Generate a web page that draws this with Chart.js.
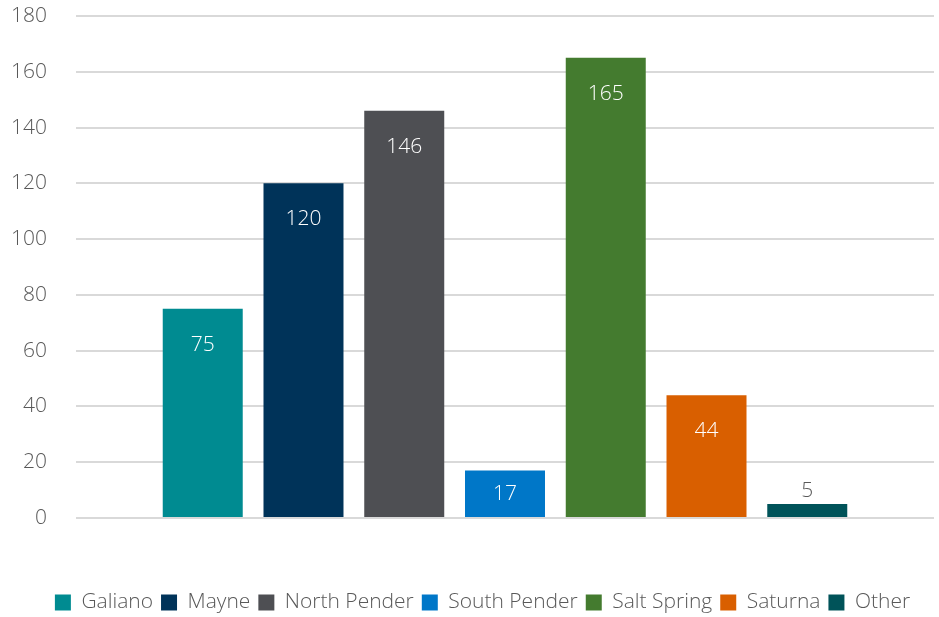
<!DOCTYPE html>
<html>
<head>
<meta charset="utf-8">
<script src="https://cdn.jsdelivr.net/npm/chart.js@4/dist/chart.umd.min.js"></script>
<style>
  html, body { margin: 0; padding: 0; background: #ffffff; }
  #wrap { width: 939px; height: 617px; position: relative; }
</style>
</head>
<body>
<div id="wrap"><canvas id="chart"></canvas></div>
<script>
// Islands and their counts
const islands = ['Galiano', 'Mayne', 'North Pender', 'South Pender', 'Salt Spring', 'Saturna', 'Other'];
const counts = [75, 120, 146, 17, 165, 44, 5];
const islandColors = ['#008B91', '#003359', '#4E4F53', '#0077C8', '#447B2F', '#D95F00', '#005359'];
const yTicks = [0, 20, 40, 60, 80, 100, 120, 140, 160, 180];

const FONT = '"Open Sans", "Lato", sans-serif';
const TEXT_GRAY = '#595959';

// Value labels: near the top inside tall bars, centred in short ones, above tiny ones
const valueLabels = {
  id: 'valueLabels',
  afterDatasetsDraw(chart) {
    const ctx = chart.ctx;
    ctx.save();
    ctx.font = '300 21px ' + FONT;
    ctx.textAlign = 'center';
    ctx.textBaseline = 'middle';
    chart.data.datasets.forEach((ds, i) => {
      const meta = chart.getDatasetMeta(i);
      meta.data.forEach((bar, j) => {
        const v = ds.data[j];
        const h = bar.base - bar.y;
        let y, color = '#ffffff';
        if (h > 80) {
          y = bar.y + 36;
        } else if (h > 30) {
          y = (bar.y + bar.base) / 2;
        } else {
          y = bar.y - 13;
          color = TEXT_GRAY;
        }
        ctx.fillStyle = color;
        ctx.fillText(String(v), bar.x, y);
      });
    });
    ctx.restore();
  }
};

// Centre the legend row under the whole chart width
const legendShift = {
  id: 'legendShift',
  afterLayout(chart) {
    const lg = chart.legend;
    if (!lg) return;
    const dx = 14;
    lg.left += dx;
    lg.right += dx;
  }
};

const datasets = islands.map((name, i) => ({
  label: name,
  data: [counts[i]],
  backgroundColor: islandColors[i],
  borderWidth: 0,
  categoryPercentage: 0.822,
  barPercentage: 0.794
}));

new Chart(document.getElementById('chart'), {
  type: 'bar',
  data: { labels: [''], datasets },
  plugins: [valueLabels, legendShift],
  options: {
    responsive: true,
    maintainAspectRatio: false,
    animation: false,
    layout: { padding: { top: 16, right: 5, left: 3, bottom: -6 } },
    scales: {
      x: {
        grid: { display: false },
        border: { display: false },
        ticks: { display: false },
        afterFit(scale) { scale.height = 66; }
      },
      y: {
        min: 0,
        max: 180,
        afterBuildTicks(scale) { scale.ticks = yTicks.map(v => ({ value: v })); },
        afterFit(scale) {
          scale.width = 73;
          scale.paddingTop = 0;
          scale.paddingBottom = 0;
        },
        grid: { color: '#d9d9d9', lineWidth: 2, drawTicks: false },
        border: { display: false },
        ticks: {
          color: TEXT_GRAY,
          font: { family: FONT, size: 21, weight: '300' },
          padding: 29
        }
      }
    },
    plugins: {
      tooltip: { enabled: false },
      legend: {
        position: 'bottom',
        labels: {
          color: TEXT_GRAY,
          font: { family: FONT, size: 21, weight: '300' },
          boxWidth: 16,
          boxHeight: 16,
          padding: 8
        }
      }
    }
  }
});
</script>
</body>
</html>
